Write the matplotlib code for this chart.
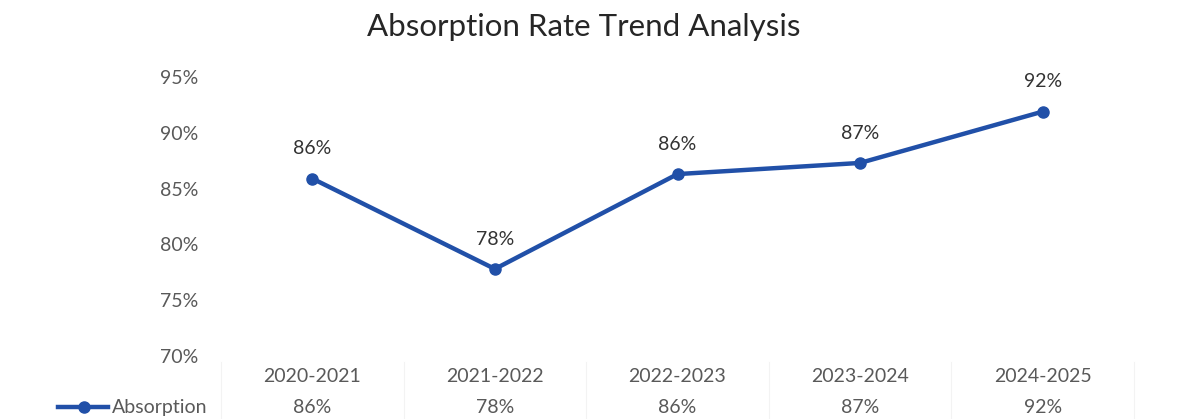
import matplotlib
matplotlib.use("Agg")
import matplotlib.pyplot as plt
from matplotlib.lines import Line2D
from matplotlib.transforms import blended_transform_factory

categories = ["2020-2021", "2021-2022", "2022-2023", "2023-2024", "2024-2025"]
absorption = [85.9, 77.8, 86.3, 87.3, 91.9]
labels = ["86%", "78%", "86%", "87%", "92%"]
yticks = [70, 75, 80, 85, 90, 95]
series_name = "Absorption"

plt.rcParams['font.family'] = ['Lato', 'DejaVu Sans']
LINE = "#2150A8"
GREY = "#595959"
FS = 14

W, H = 1179, 419
fig = plt.figure(figsize=(W / 100, H / 100), dpi=100)
left, right, top, bottom = 221, 1134, 77, 356
ax = fig.add_axes([left / W, 1 - bottom / H, (right - left) / W, (bottom - top) / H])

x = list(range(len(categories)))
ax.plot(x, absorption, color=LINE, lw=3.2, marker="o", ms=8, solid_capstyle="round")
for xi, yi, lab in zip(x, absorption, labels):
    ax.annotate(lab, (xi, yi), xytext=(0, 21.5), textcoords="offset points",
                ha="center", va="center", fontsize=FS, color="#333333")

ax.set_xlim(-0.5, len(categories) - 0.5)
ax.set_ylim(70, 95)
ax.set_yticks(yticks)
ax.set_yticklabels([f"{t}%" for t in yticks], fontsize=FS, color=GREY)
ax.tick_params(axis="y", length=0, pad=16.5)
ax.set_xticks([])
for s in ax.spines.values():
    s.set_visible(False)

# data table rows
trans = blended_transform_factory(ax.transData, fig.transFigure)
for xi, c, lab in zip(x, categories, labels):
    ax.text(xi, 1 - 376 / H, c, transform=trans, ha="center", va="center",
            fontsize=FS, color=GREY)
    ax.text(xi, 1 - 407 / H, lab, transform=trans, ha="center", va="center",
            fontsize=FS, color=GREY)

# faint table lines
for px in [221 + 182.6 * i for i in range(6)]:
    fig.add_artist(Line2D([px / W, px / W], [1 - 362 / H, 0], color="#F3F3F3", lw=0.8))

# legend key
fig.add_artist(Line2D([58 / W, 108 / W], [1 - 407 / H, 1 - 407 / H], color=LINE, lw=3.2))
fig.add_artist(Line2D([84 / W], [1 - 407 / H], color=LINE, marker="o", ms=8, lw=0))
fig.text(112 / W, 1 - 407 / H, series_name, ha="left", va="center", fontsize=FS, color=GREY)

fig.text(584 / W, 1 - 27 / H, "Absorption Rate Trend Analysis", ha="center", va="center",
         fontsize=22.5, color="#262626")

fig.savefig("out.png", dpi=100, facecolor="white")
